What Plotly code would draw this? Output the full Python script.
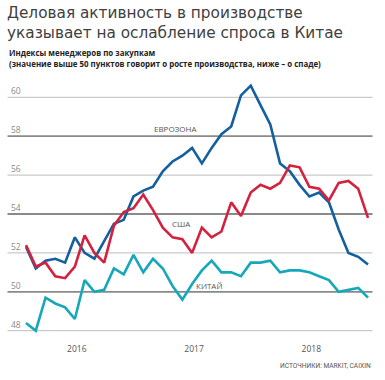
import plotly.graph_objects as go

W, H = 385, 380

months = list(range(36))  # Jan 2016 .. Dec 2018
year_labels = ["2016", "2017", "2018"]
year_tick_pos = [5.2, 17.2, 29.2]

eurozone = [52.3, 51.2, 51.6, 51.7, 51.5, 52.8, 52.0, 51.7, 52.6, 53.5, 53.7, 54.9,
            55.2, 55.4, 56.2, 56.7, 57.0, 57.4, 56.6, 57.4, 58.1, 58.5, 60.1, 60.6,
            59.6, 58.6, 56.6, 56.2, 55.5, 54.9, 55.1, 54.6, 53.2, 52.0, 51.8, 51.4]
usa = [52.4, 51.3, 51.5, 50.8, 50.7, 51.3, 52.9, 52.0, 51.5, 53.4, 54.1, 54.3,
       55.0, 54.2, 53.3, 52.8, 52.7, 52.0, 53.3, 52.8, 53.1, 54.6, 53.9, 55.1,
       55.5, 55.3, 55.6, 56.5, 56.4, 55.4, 55.3, 54.7, 55.6, 55.7, 55.3, 53.8]
china = [48.4, 48.0, 49.7, 49.4, 49.2, 48.6, 50.6, 50.0, 50.1, 51.2, 50.9, 51.9,
         51.0, 51.7, 51.2, 50.3, 49.6, 50.4, 51.1, 51.6, 51.0, 51.0, 50.8, 51.5,
         51.5, 51.6, 51.0, 51.1, 51.1, 51.0, 50.8, 50.6, 50.0, 50.1, 50.2, 49.7]
y_ticks = [48, 50, 52, 54, 56, 58, 60]
series_names = ["ЕВРОЗОНА", "США", "КИТАЙ"]
colors = ["#14609f", "#d3223f", "#16a8ba"]

title1 = "Деловая активность в производстве"
title2 = "указывает на ослабление спроса в Китае"
sub1 = "Индексы менеджеров по закупкам"
sub2 = "(значение выше 50 пунктов говорит о росте производства, ниже – о спаде)"
source = "ИСТОЧНИКИ: MARKIT, CAIXIN"


def px(x):
    return x / W


def py(y):
    return 1 - y / H


fig = go.Figure()
for name, vals, c in zip(series_names, [eurozone, usa, china], colors):
    fig.add_trace(go.Scatter(x=months, y=vals, mode="lines", name=name,
                             line=dict(color=c, width=2.6), showlegend=False,
                             hoverinfo="skip"))

shapes = []
for v in y_ticks:
    dark = v in (50, 54, 58)
    shapes.append(dict(type="line", xref="paper", yref="y", x0=px(7.5), x1=px(372.5),
                       y0=v, y1=v, layer="below",
                       line=dict(color="#8a8a8a" if dark else "#bdbdbd",
                                 width=1.8 if dark else 1)))

title_font = dict(family="DejaVu Sans", size=15.3, color="#404040")
annotations = [
    dict(text=title1, x=px(5), y=py(13.5), xref="paper", yref="paper", xanchor="left",
         yanchor="middle", showarrow=False, font=title_font),
    dict(text=title2, x=px(5), y=py(33), xref="paper", yref="paper", xanchor="left",
         yanchor="middle", showarrow=False, font=title_font),
    dict(text="<b>" + sub1 + "</b>", x=px(7), y=py(52.5), xref="paper", yref="paper",
         xanchor="left", yanchor="middle", showarrow=False,
         font=dict(family="Open Sans", size=7.9, color="#222")),
    dict(text="<b>" + sub2 + "</b>", x=px(7), y=py(63.5), xref="paper", yref="paper",
         xanchor="left", yanchor="middle", showarrow=False,
         font=dict(family="Open Sans", size=7.9, color="#222")),
    dict(text=source, x=px(373), y=py(366), xref="paper", yref="paper",
         xanchor="right", yanchor="middle", showarrow=False,
         font=dict(family="Roboto", size=6.6, color="#555")),
    dict(text=series_names[0], x=15.35, y=58.37, xref="x", yref="y", showarrow=False,
         xanchor="center", yanchor="middle",
         font=dict(family="Open Sans", size=8, color="#555")),
    dict(text=series_names[1], x=15.9, y=53.49, xref="x", yref="y", showarrow=False,
         xanchor="center", yanchor="middle",
         font=dict(family="Open Sans", size=8, color="#555")),
    dict(text=series_names[2], x=18.8, y=50.3, xref="x", yref="y", showarrow=False,
         xanchor="center", yanchor="middle",
         font=dict(family="Open Sans", size=8, color="#555")),
]

y_lo, y_hi = 47.4, 61.2
top_px = 97.3 - (y_hi - 60) * 19.45
bot_px = 330.7 + (48 - y_lo) * 19.45

fig.update_layout(
    width=W, height=H,
    margin=dict(l=0, r=0, t=0, b=0),
    paper_bgcolor="white", plot_bgcolor="white",
    shapes=shapes, annotations=annotations,
    xaxis=dict(domain=[px(8), px(372.5)], range=[-1.842, 35.46],
               tickvals=year_tick_pos, ticktext=year_labels, showgrid=False,
               zeroline=False, showline=False, ticks="",
               tickfont=dict(family="Open Sans", size=8.5, color="#555")),
    yaxis=dict(domain=[py(bot_px), py(top_px)], range=[y_lo, y_hi],
               tickvals=y_ticks, ticktext=[str(v) for v in y_ticks],
               ticklabelposition="inside top", showgrid=False, zeroline=False,
               showline=False, ticks="",
               tickfont=dict(family="Open Sans", size=8.5, color="#8a8a8a")),
)

fig.write_html("out.html", config={"displayModeBar": False, "staticPlot": True},
               post_script="document.body.style.margin='0';document.body.style.overflow='hidden';")
